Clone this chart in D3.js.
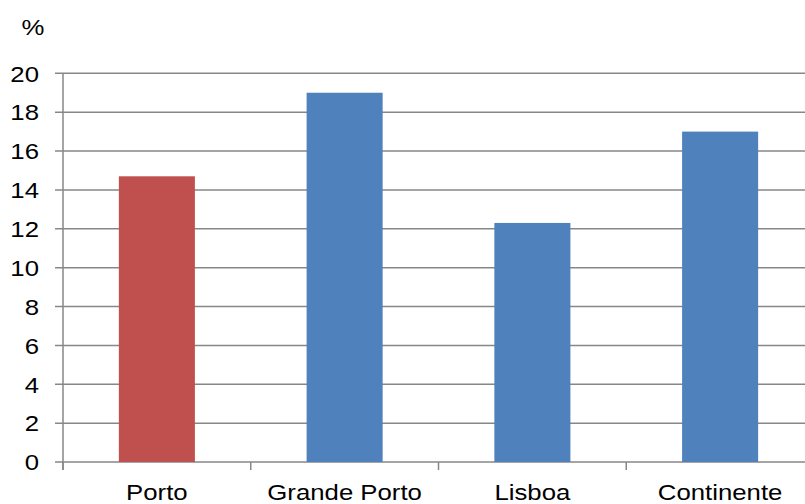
<!DOCTYPE html>
<html>
<head>
<meta charset="utf-8">
<script src="https://cdn.jsdelivr.net/npm/d3@7"></script>
<style>
  html, body { margin: 0; padding: 0; background: #fff; }
  svg { display: block; }
  text { font-family: "Liberation Sans", Arial, sans-serif; font-size: 23px; fill: #000; }
</style>
</head>
<body>
<svg id="chart" width="805" height="504"></svg>
<script>
// Share (%) by area
const categories = ["Porto", "Grande Porto", "Lisboa", "Continente"];
const values = [14.7, 19.0, 12.3, 17.0];
const barColors = ["#C0504D", "#4F81BD", "#4F81BD", "#4F81BD"];
const yTicks = [0, 2, 4, 6, 8, 10, 12, 14, 16, 18, 20];
const unitLabel = "%";

const svg = d3.select("#chart");
const W = 805;
const plot = { left: 63, right: 814, top: 73.3, bottom: 462 };
const stretch = 1.12;   // glyphs are drawn slightly wide
const gridColor = "#878787";

const x = d3.scaleBand()
  .domain(categories)
  .range([plot.left, plot.right])
  .paddingInner(0.595)
  .paddingOuter(0.2975);

const y = d3.scaleLinear()
  .domain([0, 20])
  .range([plot.bottom, plot.top]);

// horizontal gridlines (extend left past the axis as tick marks)
svg.append("g")
  .selectAll("line")
  .data(yTicks)
  .join("line")
  .attr("x1", plot.left - 8)
  .attr("x2", W)
  .attr("y1", d => y(d))
  .attr("y2", d => y(d))
  .attr("stroke", gridColor)
  .attr("stroke-width", 1.5);

// vertical axis line
svg.append("line")
  .attr("x1", plot.left).attr("x2", plot.left)
  .attr("y1", y(20)).attr("y2", plot.bottom + 8)
  .attr("stroke", gridColor)
  .attr("stroke-width", 1.5);

// category boundary ticks below the baseline
const step = x.step();
svg.append("g")
  .selectAll("line")
  .data(d3.range(categories.length + 1))
  .join("line")
  .attr("x1", i => plot.left + i * step)
  .attr("x2", i => plot.left + i * step)
  .attr("y1", plot.bottom)
  .attr("y2", plot.bottom + 8)
  .attr("stroke", gridColor)
  .attr("stroke-width", 1.5);

// bars
svg.append("g")
  .selectAll("rect")
  .data(categories)
  .join("rect")
  .attr("x", d => x(d))
  .attr("width", x.bandwidth())
  .attr("y", (d, i) => y(values[i]))
  .attr("height", (d, i) => y(0) - y(values[i]))
  .attr("fill", (d, i) => barColors[i]);

// y tick labels
svg.append("g")
  .selectAll("text")
  .data(yTicks)
  .join("text")
  .attr("text-anchor", "end")
  .attr("dy", "0.36em")
  .attr("transform", d => `translate(39,${y(d)}) scale(${stretch},1)`)
  .text(d => d);

// category labels
svg.append("g")
  .selectAll("text")
  .data(categories)
  .join("text")
  .attr("text-anchor", "middle")
  .attr("transform", d => `translate(${x(d) + x.bandwidth() / 2},499.5) scale(${stretch},1)`)
  .text(d => d);

// unit label
svg.append("text")
  .attr("text-anchor", "middle")
  .attr("transform", `translate(33,35) scale(${stretch},1)`)
  .text(unitLabel);
</script>
</body>
</html>
